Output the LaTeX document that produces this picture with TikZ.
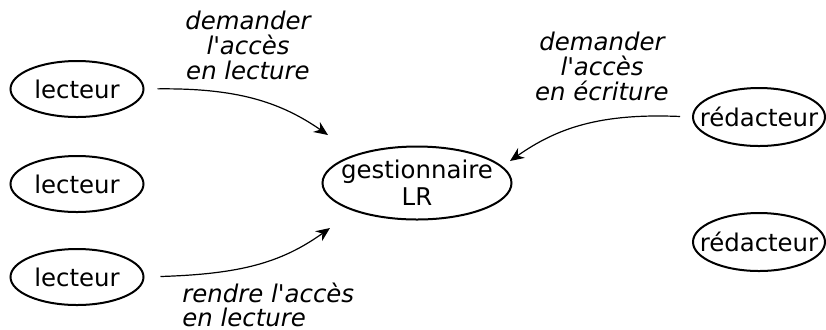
\documentclass[tikz,border=0pt]{standalone}
\usepackage{fontspec}
\setmainfont{DejaVu Sans}
\usetikzlibrary{shapes.geometric,arrows.meta}

\newcommand{\apos}{\textquotesingle}

\tikzset{
  role/.style={ellipse, draw, line width=1pt, inner sep=0pt},
  lbl/.style={font=\fontsize{12.2}{12.5}\selectfont\itshape, inner sep=0pt},
  fl/.style={-{Stealth[length=7pt,width=6pt]}, line width=0.6pt},
}

\begin{document}
\begin{tikzpicture}[x=0.5pt,y=-0.5pt,font=\fontsize{12.2}{13.5}\selectfont]
  \useasboundingbox (0,0) rectangle (826,329);

  % lecteurs
  \node[role, minimum width=66.5pt, minimum height=28pt, label=center:lecteur] (l1) at (77,89) {};
  \node[role, minimum width=66.5pt, minimum height=28pt, label=center:lecteur] (l2) at (77,184) {};
  \node[role, minimum width=66.5pt, minimum height=28pt, label=center:lecteur] (l3) at (77,277) {};

  % gestionnaire
  \node[role, minimum width=94.5pt, minimum height=36.5pt,
        label={[align=center]center:{gestionnaire\\LR}}] (g) at (417,183) {};

  % redacteurs
  \node[role, minimum width=66pt, minimum height=29pt, label=center:rédacteur] (r1) at (759,117) {};
  \node[role, minimum width=66pt, minimum height=29pt, label=center:rédacteur] (r2) at (759,242) {};

  \coordinate (g-in1) at (328,135);
  \coordinate (g-in2) at (510,161);
  \coordinate (g-in3) at (330,228);

  \draw[fl, shorten <=6.5pt] (l1.east) .. controls (235,88) and (279,101) .. (g-in1);
  \draw[fl, shorten <=6pt] (r1.west) .. controls (600,113) and (557,128) .. (g-in2);
  \draw[fl, shorten <=8pt] (l3.east) .. controls (240,274) and (281,263) .. (g-in3);

  \node[lbl, align=center, anchor=north] (t1) at (248,11) {demander\\l\apos accès\\en lecture};
  \node[lbl, align=center, anchor=north] (t2) at (602,32) {demander\\l\apos accès\\en écriture};
  \node[lbl, align=left, anchor=north west, font=\fontsize{12.2}{11.7}\selectfont\itshape]
    (t3) at (182,283) {rendre l\apos accès\\en lecture};
\end{tikzpicture}
\end{document}
